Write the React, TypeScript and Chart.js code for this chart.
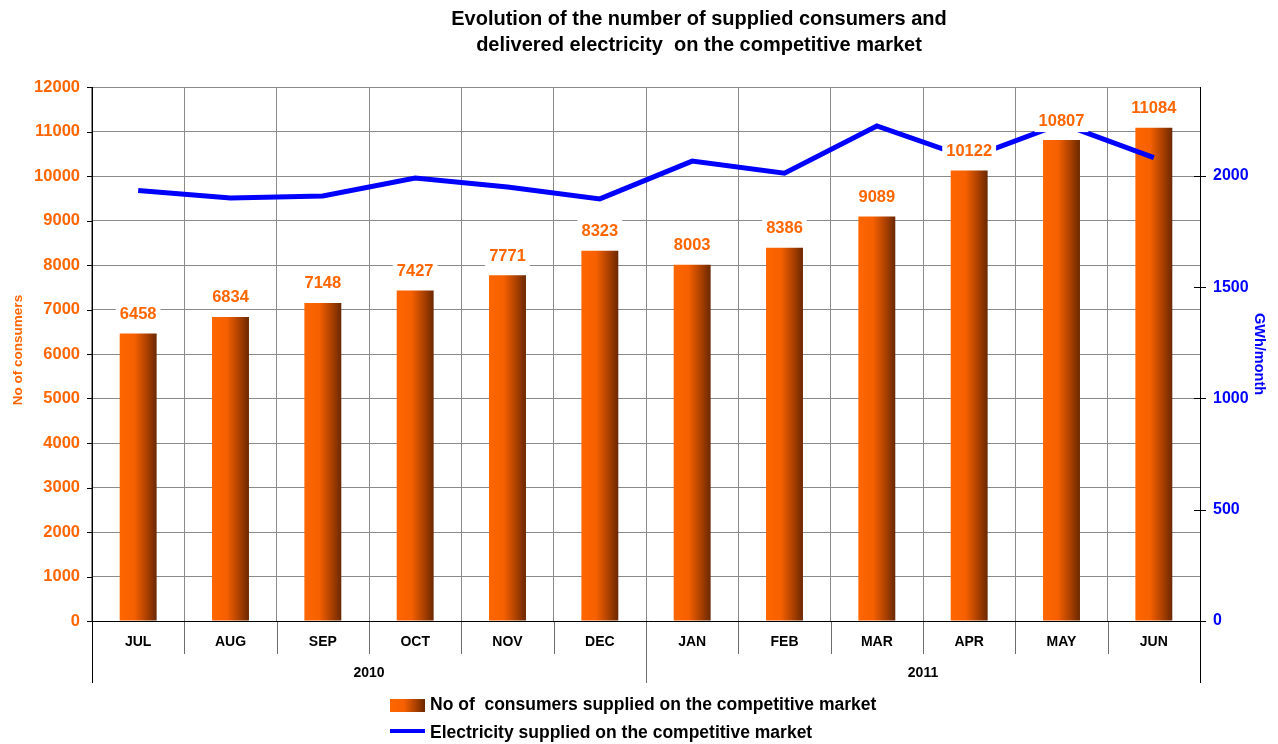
import { useEffect, useRef } from 'react';
import { Chart, registerables } from 'chart.js';

Chart.register(...registerables);

const months = ['JUL', 'AUG', 'SEP', 'OCT', 'NOV', 'DEC', 'JAN', 'FEB', 'MAR', 'APR', 'MAY', 'JUN'];
const yearLabels = ['2010', '2011'];
const yearSpans = [6, 6];
const consumers = [6458, 6834, 7148, 7427, 7771, 8323, 8003, 8386, 9089, 10122, 10807, 11084];
const electricity = [1935, 1901, 1910, 1991, 1951, 1897, 2067, 2013, 2225, 2080, 2235, 2083];
const rightTicks = [0, 500, 1000, 1500, 2000];
const titleLines = [
  'Evolution of the number of supplied consumers and',
  'delivered electricity  on the competitive market',
];
const leftAxisTitle = 'No of consumers';
const rightAxisTitle = 'GWh/month';
const legendBar = 'No of  consumers supplied on the competitive market';
const legendLine = 'Electricity supplied on the competitive market';

const FONT = 'Arial, "Liberation Sans", Helvetica, sans-serif';
const ORANGE = '#FF6600';
const BLUE = '#0000FF';
const GRID = '#8a8a8a';
const BAR_PCT = 0.4;

function barGradient(ctx: CanvasRenderingContext2D, x0: number, x1: number) {
  const g = ctx.createLinearGradient(x0, 0, x1, 0);
  g.addColorStop(0, '#ff6600');
  g.addColorStop(0.4, '#f66000');
  g.addColorStop(0.75, '#a83f00');
  g.addColorStop(1, '#6a2800');
  return g;
}

const decorPlugin = {
  id: 'decor',
  afterDraw(chart: any) {
    const { ctx, chartArea: a, scales } = chart;
    const n = months.length;
    const cw = (a.right - a.left) / n;
    const yS = scales.y;
    const y1S = scales.y1;
    ctx.save();

    // separators under the x axis
    ctx.lineWidth = 1;
    ctx.strokeStyle = '#6e6e6e';
    let acc = 0;
    const majors = new Set<number>([0, n]);
    yearSpans.forEach((s) => { acc += s; majors.add(acc); });
    for (let i = 0; i <= n; i++) {
      const x = Math.round(a.left + i * cw) + 0.5;
      ctx.beginPath();
      ctx.moveTo(x, a.bottom);
      ctx.lineTo(x, majors.has(i) ? a.bottom + 62 : a.bottom + 33);
      ctx.stroke();
    }

    // axis lines
    ctx.strokeStyle = '#000';
    ctx.beginPath();
    ctx.moveTo(Math.round(a.left) + 0.5, a.top);
    ctx.lineTo(Math.round(a.left) + 0.5, a.bottom + 62);
    ctx.moveTo(Math.round(a.right) + 0.5, a.top);
    ctx.lineTo(Math.round(a.right) + 0.5, a.bottom + 62);
    ctx.moveTo(a.left, Math.round(a.bottom) + 0.5);
    ctx.lineTo(a.right + 5, Math.round(a.bottom) + 0.5);
    ctx.stroke();

    // tick marks
    ctx.beginPath();
    for (let v = 0; v <= 12000; v += 1000) {
      const y = Math.round(yS.getPixelForValue(v)) + 0.5;
      ctx.moveTo(a.left - 5, y);
      ctx.lineTo(a.left, y);
    }
    rightTicks.forEach((v) => {
      const y = Math.round(y1S.getPixelForValue(v)) + 0.5;
      ctx.moveTo(a.right - 6, y);
      ctx.lineTo(a.right + 6, y);
    });
    ctx.stroke();

    // month labels
    ctx.fillStyle = '#000';
    ctx.textAlign = 'center';
    ctx.textBaseline = 'middle';
    ctx.font = `bold 14px ${FONT}`;
    months.forEach((m, i) => {
      ctx.fillText(m, a.left + (i + 0.5) * cw, a.bottom + 21);
    });
    // year labels
    ctx.font = `bold 14px ${FONT}`;
    let start = 0;
    yearLabels.forEach((y, k) => {
      const span = yearSpans[k];
      ctx.fillText(y, a.left + (start + span / 2) * cw, a.bottom + 52);
      start += span;
    });

    // data labels with white boxes
    ctx.font = `bold 16.5px ${FONT}`;
    consumers.forEach((v, i) => {
      const x = a.left + (i + 0.5) * cw;
      const y = yS.getPixelForValue(v) - 20;
      const t = String(v);
      const w = ctx.measureText(t).width;
      ctx.fillStyle = '#fff';
      ctx.fillRect(x - w / 2 - 4, y - 12, w + 8, 24);
      ctx.fillStyle = ORANGE;
      ctx.fillText(t, x, y + 1);
    });

    // title
    ctx.fillStyle = '#000';
    ctx.font = `bold 20px ${FONT}`;
    titleLines.forEach((t, i) => ctx.fillText(t, 699, 19 + i * 26));

    // axis titles
    ctx.save();
    ctx.translate(18, 350);
    ctx.rotate(-Math.PI / 2);
    ctx.fillStyle = ORANGE;
    ctx.font = `bold 13.5px ${FONT}`;
    ctx.fillText(leftAxisTitle, 0, 0);
    ctx.restore();

    ctx.save();
    ctx.translate(1259, 354);
    ctx.rotate(Math.PI / 2);
    ctx.fillStyle = BLUE;
    ctx.font = `bold 14.5px ${FONT}`;
    ctx.fillText(rightAxisTitle, 0, 0);
    ctx.restore();

    // legend
    ctx.fillStyle = barGradient(ctx, 390, 425);
    ctx.fillRect(390, 699, 35, 13);
    ctx.strokeStyle = BLUE;
    ctx.lineWidth = 4;
    ctx.beginPath();
    ctx.moveTo(390, 731);
    ctx.lineTo(425, 731);
    ctx.stroke();
    ctx.fillStyle = '#000';
    ctx.textAlign = 'left';
    ctx.font = `bold 17.5px ${FONT}`;
    ctx.fillText(legendBar, 430, 705);
    ctx.fillText(legendLine, 430, 733);

    ctx.restore();
  },
};

export default function App() {
  const ref = useRef<HTMLCanvasElement | null>(null);

  useEffect(() => {
    if (!ref.current) return;
    const chart = new Chart(ref.current, {
      type: 'bar',
      data: {
        labels: months,
        datasets: [
          {
            type: 'line',
            label: legendLine,
            data: electricity,
            yAxisID: 'y1',
            borderColor: BLUE,
            borderWidth: 5,
            pointRadius: 0,
            tension: 0,
            fill: false,
            order: 0,
          } as any,
          {
            type: 'bar',
            label: legendBar,
            data: consumers,
            yAxisID: 'y',
            barPercentage: BAR_PCT,
            categoryPercentage: 1,
            order: 1,
            backgroundColor: (c: any) => {
              const ch = c.chart;
              const a = ch.chartArea;
              if (!a) return ORANGE;
              const cw = (a.right - a.left) / months.length;
              const cx = a.left + (c.dataIndex + 0.5) * cw;
              const bw = cw * BAR_PCT;
              return barGradient(ch.ctx, cx - bw / 2, cx + bw / 2);
            },
          } as any,
        ],
      },
      options: {
        responsive: false,
        devicePixelRatio: 1,
        animation: false,
        layout: { padding: { top: 87, bottom: 123, left: 0, right: 0 } },
        plugins: {
          legend: { display: false },
          title: { display: false },
          tooltip: { enabled: false },
        },
        scales: {
          x: {
            type: 'category',
            offset: true,
            grid: { color: GRID, offset: true, drawTicks: false, lineWidth: 1 },
            border: { display: false },
            ticks: { display: false },
            afterFit: (s: any) => { s.height = 0; },
          },
          y: {
            position: 'left',
            min: 0,
            max: 12000,
            ticks: {
              stepSize: 1000,
              color: ORANGE,
              font: { family: FONT, size: 16.5, weight: 'bold' },
              padding: 12,
              callback: (v: any) => String(v),
            },
            grid: { color: GRID, drawTicks: false },
            border: { display: false },
            afterFit: (s: any) => { s.width = 92; },
          },
          y1: {
            position: 'right',
            min: 0,
            max: 2400,
            afterBuildTicks: (s: any) => {
              s.ticks = rightTicks.map((v) => ({ value: v }));
            },
            ticks: {
              color: BLUE,
              font: { family: FONT, size: 16, weight: 'bold' },
              padding: 13,
              callback: (v: any) => String(v),
            },
            grid: { display: false, drawTicks: false },
            border: { display: false },
            afterFit: (s: any) => { s.width = 78; },
          },
        },
      } as any,
      plugins: [decorPlugin],
    });
    return () => chart.destroy();
  }, []);

  return (
    <div style={{ position: 'absolute', left: 0, top: 0, width: 1278, height: 744, background: '#fff' }}>
      <canvas ref={ref} width={1278} height={744} style={{ display: 'block', width: 1278, height: 744 }} />
    </div>
  );
}
